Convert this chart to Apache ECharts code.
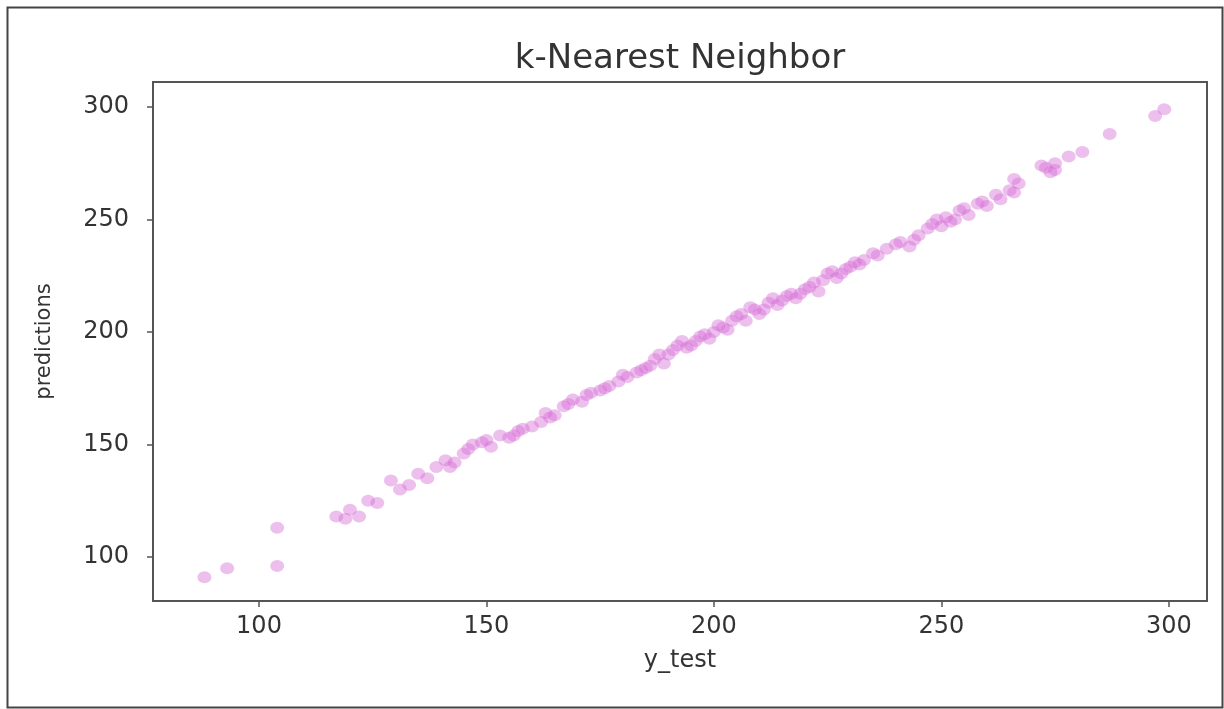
<!DOCTYPE html>
<html>
<head>
<meta charset="utf-8">
<script src="https://cdn.jsdelivr.net/npm/echarts@6/dist/echarts.min.js"></script>
<style>
html,body{margin:0;padding:0;background:#fff;}
#chart{width:1224px;height:709px;}
</style>
</head>
<body>
<div id="chart"></div>
<script>
const titleText = 'k-Nearest Neighbor';
const xName = 'y_test';
const yName = 'predictions';
const yTest = [
  88, 93, 104, 104,
  117, 119, 120, 122, 124, 126, 129, 131, 133, 135, 137, 139, 141, 143, 145, 147,
  149, 151, 153, 155, 157, 160, 162, 163, 165, 167, 169, 171, 173, 175, 177, 179,
  181, 183, 185, 187, 189, 190, 192, 194, 196, 198, 200, 202, 204, 206, 208, 210,
  212, 214, 216, 218, 220, 222, 223, 225, 227, 229, 231, 233, 236, 238, 240, 243,
  245, 247, 249, 250, 252, 254, 256, 258, 260, 262, 265, 266, 267, 273, 274, 275,
  278, 281, 287, 297, 299,
  142, 146, 150, 156, 158, 164, 168, 172, 176, 180, 184, 186, 188, 191, 193, 195,
  197, 199, 201, 203, 205, 207, 209, 211, 213, 215, 217, 219, 221, 224, 226, 228,
  230, 232, 235, 241, 244, 248, 251, 253, 255, 259, 263, 266, 272, 275
];
const predictions = [
  91, 95, 113, 96,
  118, 117, 121, 118, 125, 124, 134, 130, 132, 137, 135, 140, 143, 142, 146, 150,
  151, 149, 154, 153, 156, 158, 160, 164, 163, 167, 170, 169, 173, 174, 176, 178,
  180, 182, 184, 188, 186, 190, 194, 193, 196, 199, 200, 202, 205, 208, 211, 208,
  213, 212, 216, 215, 219, 222, 218, 226, 224, 228, 231, 232, 234, 237, 239, 238,
  243, 246, 250, 247, 249, 254, 252, 257, 256, 261, 263, 268, 266, 273, 271, 275,
  278, 280, 288, 296, 299,
  140, 148, 152, 154, 157, 162, 168, 172, 175, 181, 183, 185, 190, 192, 196, 194,
  198, 197, 203, 201, 207, 205, 210, 210, 215, 214, 217, 217, 220, 223, 227, 226,
  229, 230, 235, 240, 241, 248, 251, 250, 255, 258, 259, 262, 274, 272
];
const points = yTest.map((v, i) => [v, predictions[i]]);

const chart = echarts.init(document.getElementById('chart'));
const textColor = '#333';
const axisColor = '#555';
chart.setOption({
  backgroundColor: '#fff',
  animation: false,
  title: {
    text: titleText,
    left: 675, top: 37, textAlign: 'center',
    textStyle: {fontFamily: 'DejaVu Sans', fontSize: 34, fontWeight: 'normal', color: textColor}
  },
  graphic: [{
    type: 'rect', left: 5, top: 5,
    shape: {width: 1215, height: 700},
    style: {fill: null, stroke: '#444', lineWidth: 2}
  }],
  grid: {
    left: 153, right: 17, top: 82, bottom: 108,
    show: true, borderColor: axisColor, borderWidth: 2, backgroundColor: '#fff'
  },
  xAxis: {
    type: 'value', min: 76.7, max: 308.4, minInterval: 50, maxInterval: 50,
    name: xName, nameLocation: 'middle', nameGap: 48,
    nameTextStyle: {fontFamily: 'DejaVu Sans', fontSize: 24, color: textColor},
    splitLine: {show: false},
    axisLine: {show: true, onZero: false, lineStyle: {color: axisColor, width: 2}},
    axisTick: {show: true, length: 6, lineStyle: {color: axisColor, width: 1.5}},
    axisLabel: {showMinLabel: false, showMaxLabel: false, fontFamily: 'DejaVu Sans', fontSize: 24, color: textColor, margin: 14}
  },
  yAxis: {
    type: 'value', min: 80.4, max: 311.1, minInterval: 50, maxInterval: 50,
    name: yName, nameLocation: 'middle', nameGap: 98, nameRotate: 90,
    nameTextStyle: {fontFamily: 'DejaVu Sans', fontSize: 21, color: textColor},
    splitLine: {show: false},
    axisLine: {show: true, onZero: false, lineStyle: {color: axisColor, width: 2}},
    axisTick: {show: true, length: 6, lineStyle: {color: axisColor, width: 1.5}},
    axisLabel: {showMinLabel: false, showMaxLabel: false, fontFamily: 'DejaVu Sans', fontSize: 24, color: textColor, margin: 24}
  },
  series: [{
    type: 'scatter',
    data: points,
    symbol: 'circle',
    symbolSize: [14, 12],
    itemStyle: {color: 'rgba(214,110,214,0.55)'}
  }]
});
</script>
</body>
</html>
